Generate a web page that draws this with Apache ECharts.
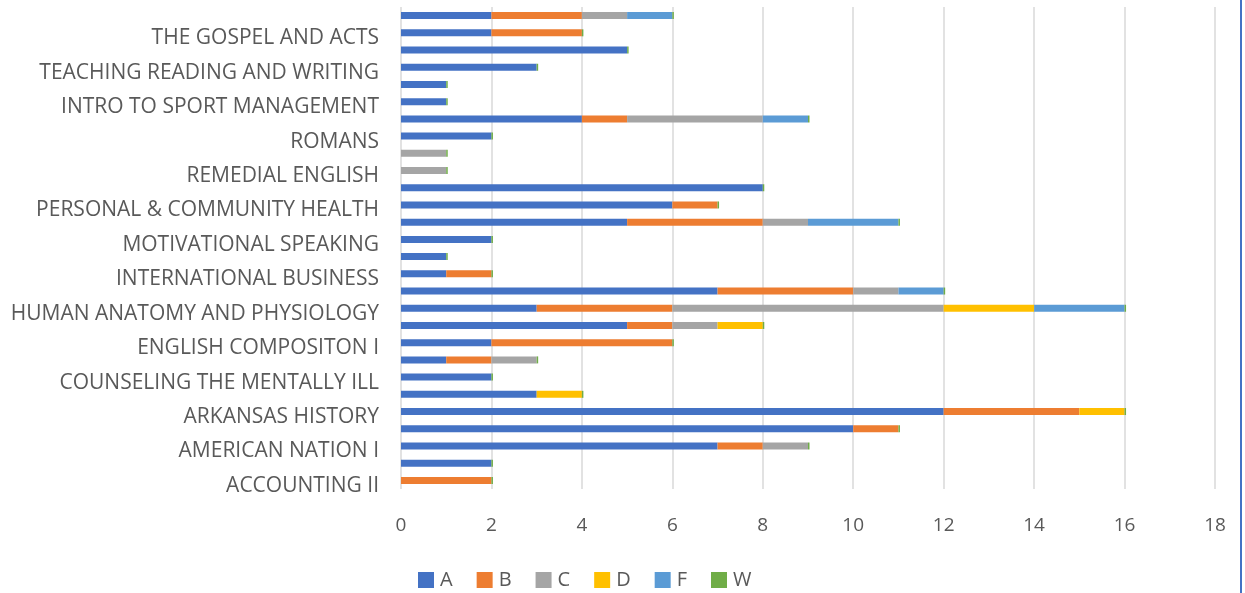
<!DOCTYPE html>
<html>
<head>
<meta charset="utf-8">
<script src="https://cdn.jsdelivr.net/npm/echarts@6/dist/echarts.min.js"></script>
<style>
  html, body { margin: 0; padding: 0; background: #ffffff; }
  #chart { width: 1245px; height: 593px; }
</style>
</head>
<body>
<div id="chart"></div>
<script>
// Courses, listed from the bottom row upward
const courses = [
  'ACCOUNTING II', 'AMERICAN GOVERNMENT',
  'AMERICAN NATION I', 'AMERICAN NATION II',
  'ARKANSAS HISTORY', 'BIOLOGY',
  'COUNSELING THE MENTALLY ILL', 'DEVELOPMENTAL PSYCHOLOGY',
  'ENGLISH COMPOSITON I', 'ENGLISH COMPOSITON II',
  'HUMAN ANATOMY AND PHYSIOLOGY', 'INTERMEDIATE ALGEBRA',
  'INTERNATIONAL BUSINESS', 'MICROBIOLOGY',
  'MOTIVATIONAL SPEAKING', 'NEW TESTAMENT SURVEY',
  'PERSONAL & COMMUNITY HEALTH', 'PRINCIPLES OF MANAGEMENT',
  'REMEDIAL ENGLISH', 'REMEDIAL MATH',
  'ROMANS', 'SOCIOLOGY',
  'INTRO TO SPORT MANAGEMENT', 'SPEECH',
  'TEACHING READING AND WRITING', 'THE CHURCH',
  'THE GOSPEL AND ACTS', 'WORLD HISTORY'
];

// Grade counts per course
const gradeA = [0, 2, 7, 10, 12, 3, 2, 1, 2, 5, 3, 7, 1, 1, 2, 5, 6, 8, 0, 0, 2, 4, 1, 1, 3, 5, 2, 2];
const gradeB = [2, 0, 1, 1, 3, 0, 0, 1, 4, 1, 3, 3, 1, 0, 0, 3, 1, 0, 0, 0, 0, 1, 0, 0, 0, 0, 2, 2];
const gradeC = [0, 0, 1, 0, 0, 0, 0, 1, 0, 1, 6, 1, 0, 0, 0, 1, 0, 0, 1, 1, 0, 3, 0, 0, 0, 0, 0, 1];
const gradeD = [0, 0, 0, 0, 1, 1, 0, 0, 0, 1, 2, 0, 0, 0, 0, 0, 0, 0, 0, 0, 0, 0, 0, 0, 0, 0, 0, 0];
const gradeF = [0, 0, 0, 0, 0, 0, 0, 0, 0, 0, 2, 1, 0, 0, 0, 2, 0, 0, 0, 0, 0, 1, 0, 0, 0, 0, 0, 1];
const gradeW = [0, 0, 0, 0, 0, 0, 0, 0, 0, 0, 0, 0, 0, 0, 0, 0, 0, 0, 0, 0, 0, 0, 0, 0, 0, 0, 0, 0];

const xTicks = { min: 0, max: 18, interval: 2 };

const grades = [
  { name: 'A', data: gradeA, color: '#4472C4' },
  { name: 'B', data: gradeB, color: '#ED7D31' },
  { name: 'C', data: gradeC, color: '#A5A5A5' },
  { name: 'D', data: gradeD, color: '#FFC000' },
  { name: 'F', data: gradeF, color: '#5B9BD5' },
  { name: 'W', data: gradeW, color: '#70AD47' }
];

const FONT = '"Open Sans", "Noto Sans", sans-serif';
const chart = echarts.init(document.getElementById('chart'), null, { renderer: 'canvas' });

chart.setOption({
  animation: false,
  backgroundColor: '#ffffff',
  grid: { left: 401, right: 30, top: 7, bottom: 104, containLabel: false },
  legend: {
    left: 413,
    top: 565,
    itemWidth: 16,
    itemHeight: 16,
    itemGap: 24,
    icon: 'rect',
    textStyle: { color: '#595959', fontSize: 20, fontFamily: FONT, padding: [0, 0, 0, 1] },
    data: grades.map(g => g.name)
  },
  xAxis: {
    type: 'value',
    min: xTicks.min,
    max: xTicks.max,
    interval: xTicks.interval,
    axisLine: { show: false },
    axisTick: { show: false },
    splitLine: { show: true, lineStyle: { color: '#D9D9D9', width: 1.5 } },
    axisLabel: { color: '#595959', fontSize: 19, fontFamily: FONT, margin: 27 }
  },
  yAxis: {
    type: 'category',
    data: courses,
    axisLine: { show: false },
    axisTick: { show: false },
    axisLabel: {
      interval: 1,
      color: '#595959',
      fontSize: 21,
      fontFamily: FONT,
      margin: 22,
      verticalAlign: 'top',
      padding: [-5, 0, 0, 0]
    }
  },
  series: grades.map(g => ({
    name: g.name,
    type: 'bar',
    stack: 'grades',
    data: g.data,
    barWidth: 7,
    barMinHeight: g.name === 'W' ? 1.5 : 0,
    itemStyle: { color: g.color }
  })),
  graphic: [{
    type: 'rect',
    right: 3,
    top: 0,
    shape: { width: 2, height: 593 },
    style: { fill: '#4472C4' }
  }]
});
</script>
</body>
</html>
